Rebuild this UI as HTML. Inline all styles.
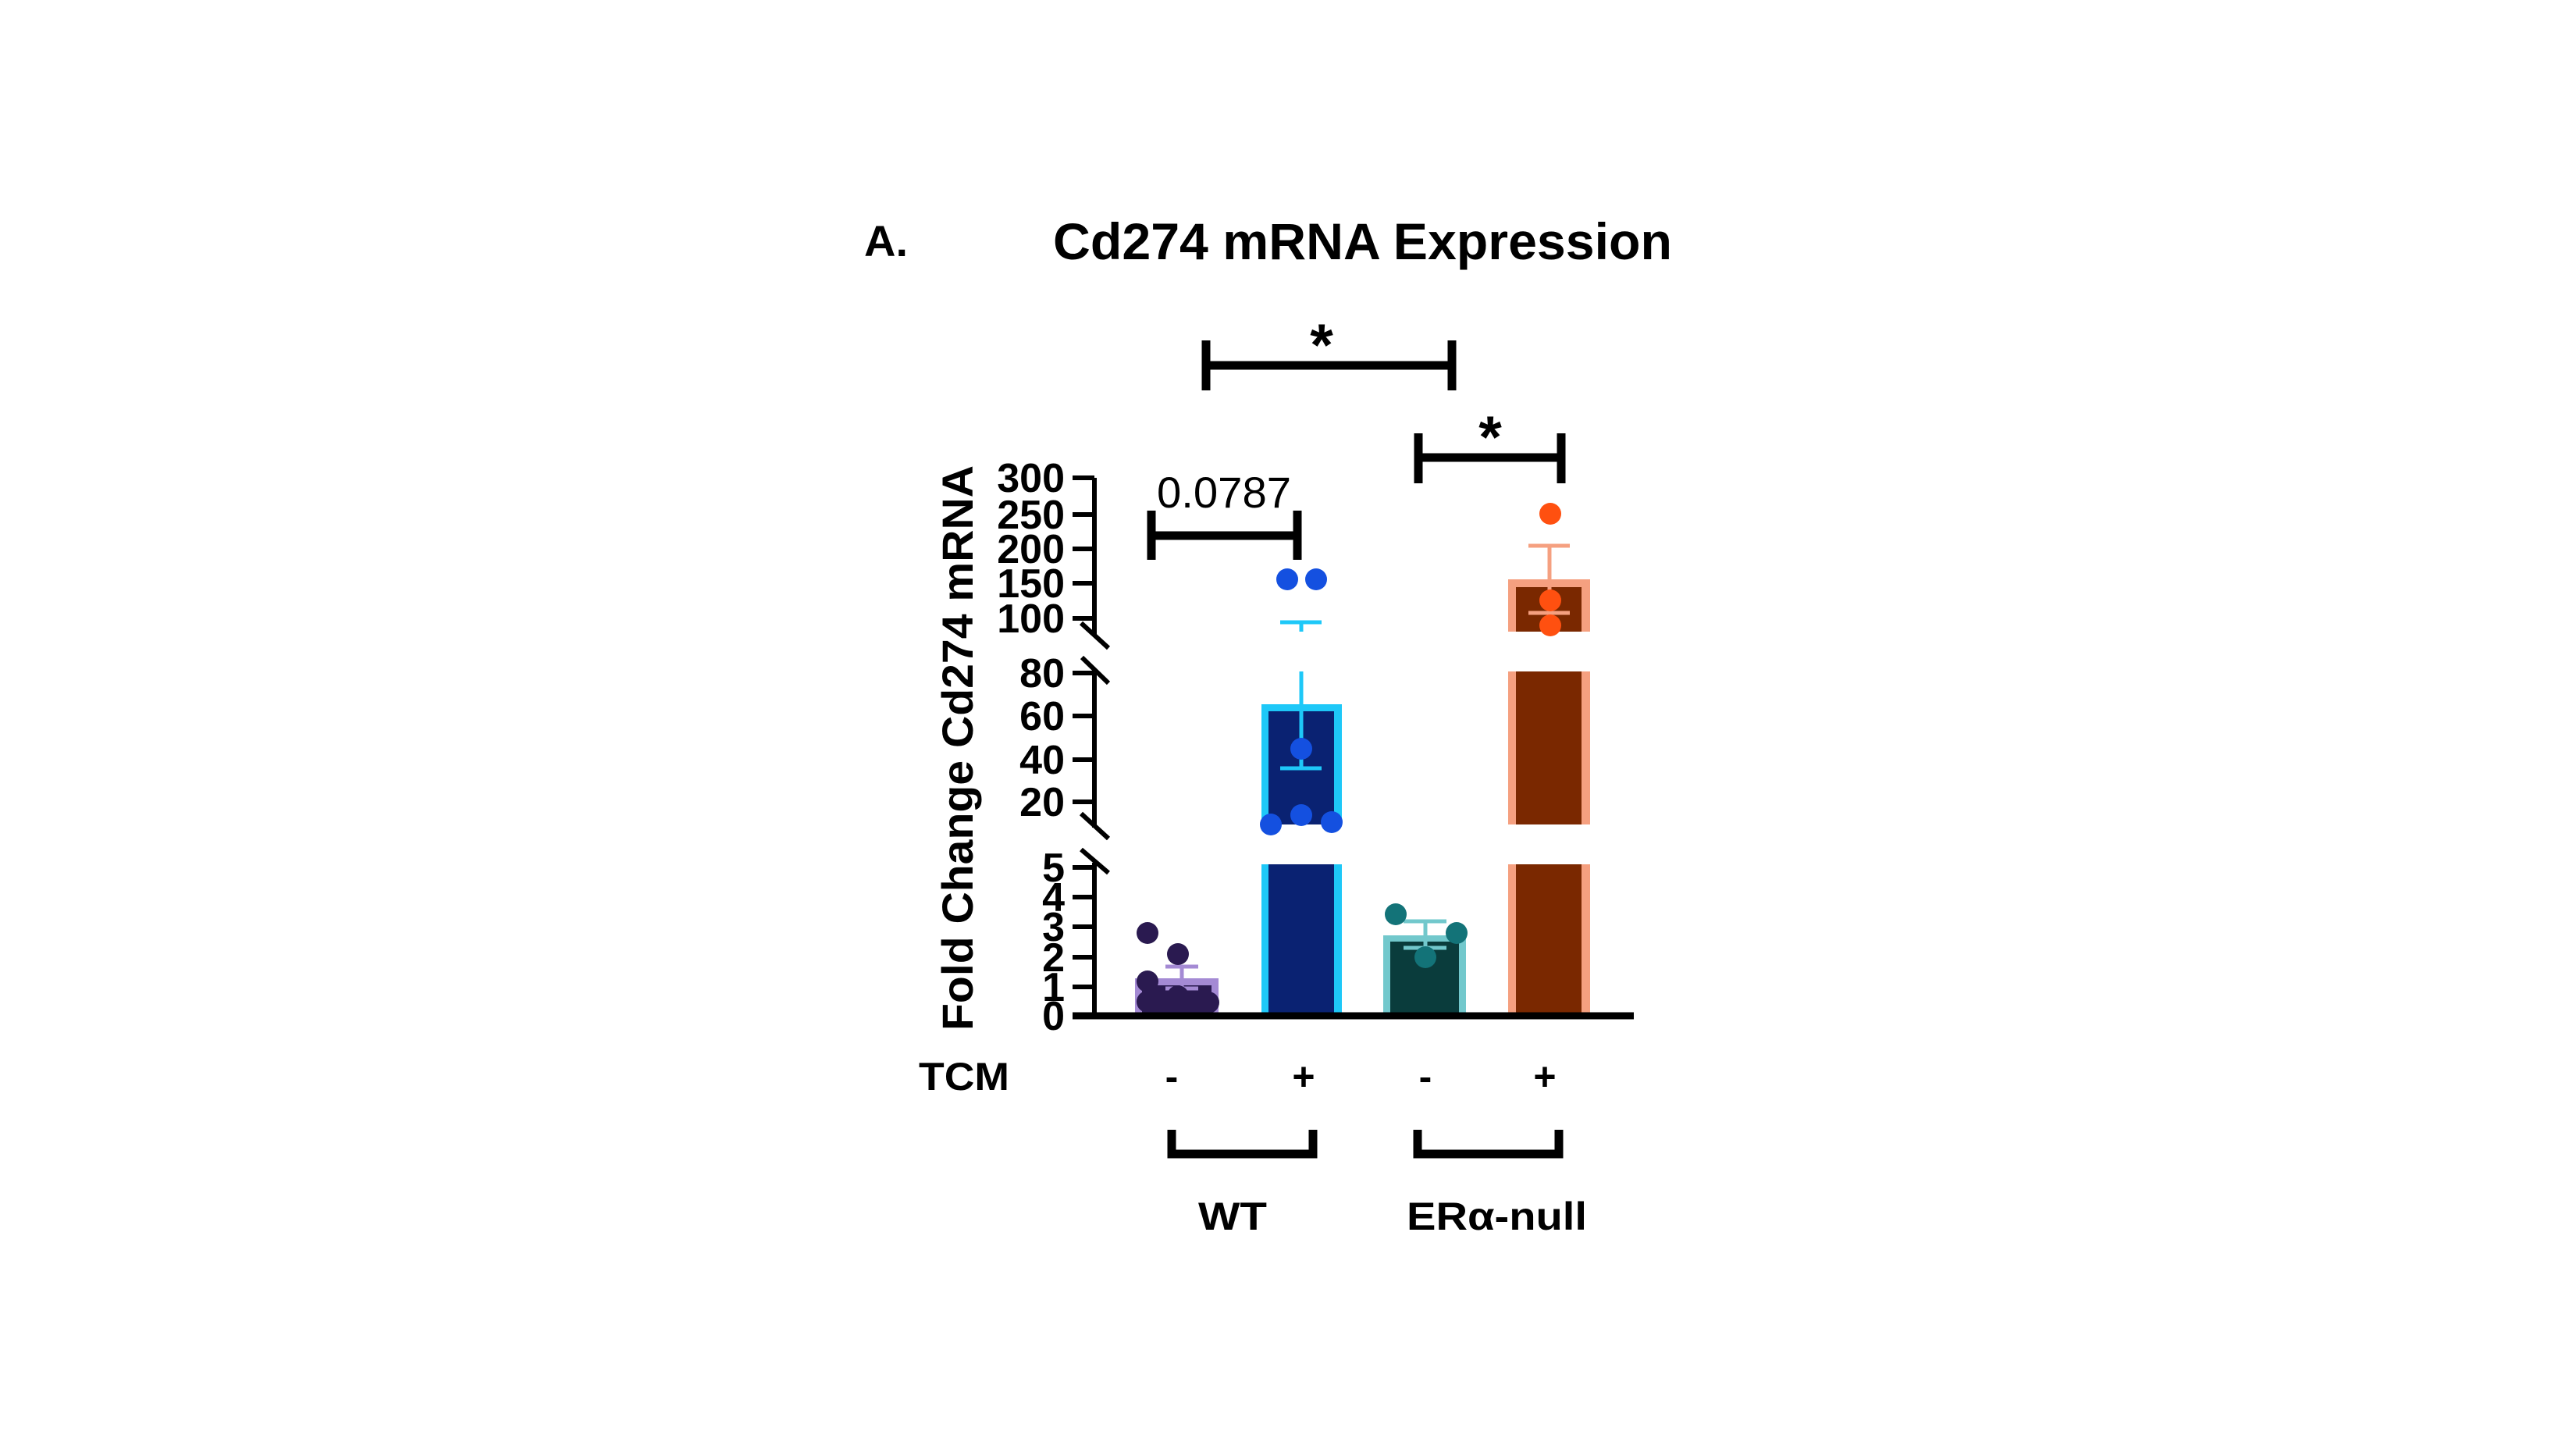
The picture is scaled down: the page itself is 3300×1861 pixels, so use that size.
<!DOCTYPE html>
<html><head><meta charset="utf-8"><style>html,body{margin:0;padding:0;background:#fff}</style></head>
<body>
<svg width="3300" height="1856" viewBox="0 0 3300 1856" xmlns="http://www.w3.org/2000/svg" font-family="Liberation Sans, Arial, sans-serif">
<rect width="3300" height="1856" fill="#fff"/>
<text x="1107" y="328" font-size="56" font-weight="bold">A.</text>
<text x="1349" y="332" font-size="66" font-weight="bold" textLength="793" lengthAdjust="spacingAndGlyphs">Cd274 mRNA Expression</text>

<g stroke="#000" stroke-width="11" fill="none">
<path d="M1545 436V500M1860 436V500M1545 468H1860"/>
<path d="M1817 555V619M2000 555V619M1817 586H2000"/>
<path d="M1475 654V717M1662 654V717M1475 686H1662"/>
<path d="M1501 1447V1478H1682V1447"/>
<path d="M1816 1447V1478H1997V1447"/>
</g>
<text x="1693" y="468" font-size="76" font-weight="bold" text-anchor="middle">*</text>
<text x="1909" y="586" font-size="76" font-weight="bold" text-anchor="middle">*</text>
<text x="1482" y="650" font-size="56" textLength="172" lengthAdjust="spacingAndGlyphs">0.0787</text>

<rect x="1454" y="1253" width="107" height="48" fill="#a48ad4"/>
<rect x="1463" y="1262" width="89" height="39" fill="#2a1a50"/>
<rect x="1616" y="902" width="103" height="154" fill="#1ec8f8"/>
<rect x="1625" y="911" width="84" height="145" fill="#0a2272"/>
<rect x="1616" y="1107" width="103" height="194" fill="#1ec8f8"/>
<rect x="1625" y="1107" width="84" height="194" fill="#0a2272"/>
<rect x="1772" y="1198" width="106" height="103" fill="#72c8cc"/>
<rect x="1781" y="1206" width="88" height="95" fill="#0a3c3c"/>
<rect x="1932" y="742" width="105" height="67" fill="#f5a080"/>
<rect x="1942" y="752" width="84" height="57" fill="#7a2800"/>
<rect x="1932" y="860" width="105" height="196" fill="#f5a080"/>
<rect x="1942" y="860" width="84" height="196" fill="#7a2800"/>
<rect x="1932" y="1107" width="105" height="194" fill="#f5a080"/>
<rect x="1942" y="1107" width="84" height="194" fill="#7a2800"/>

<g stroke-width="5" fill="none">
<path stroke="#a48ad4" d="M1514 1238V1266M1493 1238H1535M1493 1266H1535"/>
<path stroke="#1ec8f8" d="M1667 797V809M1640 797H1693M1667 860V984M1640 984H1693"/>
<path stroke="#72c8cc" d="M1826 1180V1214M1798 1180H1853M1798 1214H1853"/>
<path stroke="#f5a080" d="M1985 699V785M1958 699H2011M1958 785H2011"/>
</g>

<g fill="#2a1a50">
<circle cx="1470" cy="1195" r="14"/><circle cx="1509" cy="1222" r="14"/><circle cx="1470" cy="1257" r="14"/>
<circle cx="1509" cy="1276" r="14"/><circle cx="1470" cy="1283" r="14"/><circle cx="1548" cy="1284" r="14"/>
</g>
<g fill="#1450e0">
<circle cx="1649" cy="742" r="14"/><circle cx="1686" cy="742" r="14"/><circle cx="1667" cy="959" r="14"/>
<circle cx="1667" cy="1044" r="14"/><circle cx="1628" cy="1056" r="14"/><circle cx="1706" cy="1053" r="14"/>
</g>
<g fill="#137378">
<circle cx="1788" cy="1171" r="14"/><circle cx="1866" cy="1195" r="14"/><circle cx="1826" cy="1226" r="14"/>
</g>
<g fill="#ff5010">
<circle cx="1986" cy="658" r="14"/><circle cx="1986" cy="769" r="14"/><circle cx="1986" cy="801" r="14"/>
</g>

<g stroke="#000" stroke-width="6" fill="none">
<path d="M1402 612V813M1374 612H1402M1374 659H1402M1374 703H1402M1374 747H1402M1374 792H1402"/>
<path d="M1385 798L1420 830M1386 842L1420 875M1385 1042L1420 1074M1385 1088L1420 1118"/>
<path d="M1402 862V1060M1374 862H1402M1374 917H1402M1374 973H1402M1374 1027H1402"/>
<path d="M1402 1105V1301M1374 1111H1402M1374 1149H1402M1374 1187H1402M1374 1226H1402M1374 1264H1402"/>
</g>
<path d="M1374 1301H2093" stroke="#000" stroke-width="9"/>

<g font-size="52" font-weight="bold" text-anchor="end">
<text x="1364" y="630">300</text><text x="1364" y="677">250</text><text x="1364" y="721">200</text>
<text x="1364" y="765">150</text><text x="1364" y="810">100</text>
<text x="1364" y="880">80</text><text x="1364" y="935">60</text><text x="1364" y="991">40</text><text x="1364" y="1045">20</text>
<text x="1364" y="1129">5</text><text x="1364" y="1167">4</text><text x="1364" y="1205">3</text>
<text x="1364" y="1244">2</text><text x="1364" y="1282">1</text><text x="1364" y="1319">0</text>
</g>
<text transform="translate(1246,958) rotate(-90)" font-size="56" font-weight="bold" text-anchor="middle" textLength="724" lengthAdjust="spacingAndGlyphs">Fold Change Cd274 mRNA</text>

<g font-size="50" font-weight="bold">
<text x="1177" y="1396" textLength="116" lengthAdjust="spacingAndGlyphs">TCM</text>
<text x="1501" y="1396" text-anchor="middle">-</text>
<text x="1670" y="1396" text-anchor="middle">+</text>
<text x="1826" y="1396" text-anchor="middle">-</text>
<text x="1979" y="1396" text-anchor="middle">+</text>
<text x="1535" y="1575" textLength="88" lengthAdjust="spacingAndGlyphs">WT</text>
<text x="1802" y="1575" textLength="231" lengthAdjust="spacingAndGlyphs">ERα-null</text>
</g>
</svg>
</body></html>
